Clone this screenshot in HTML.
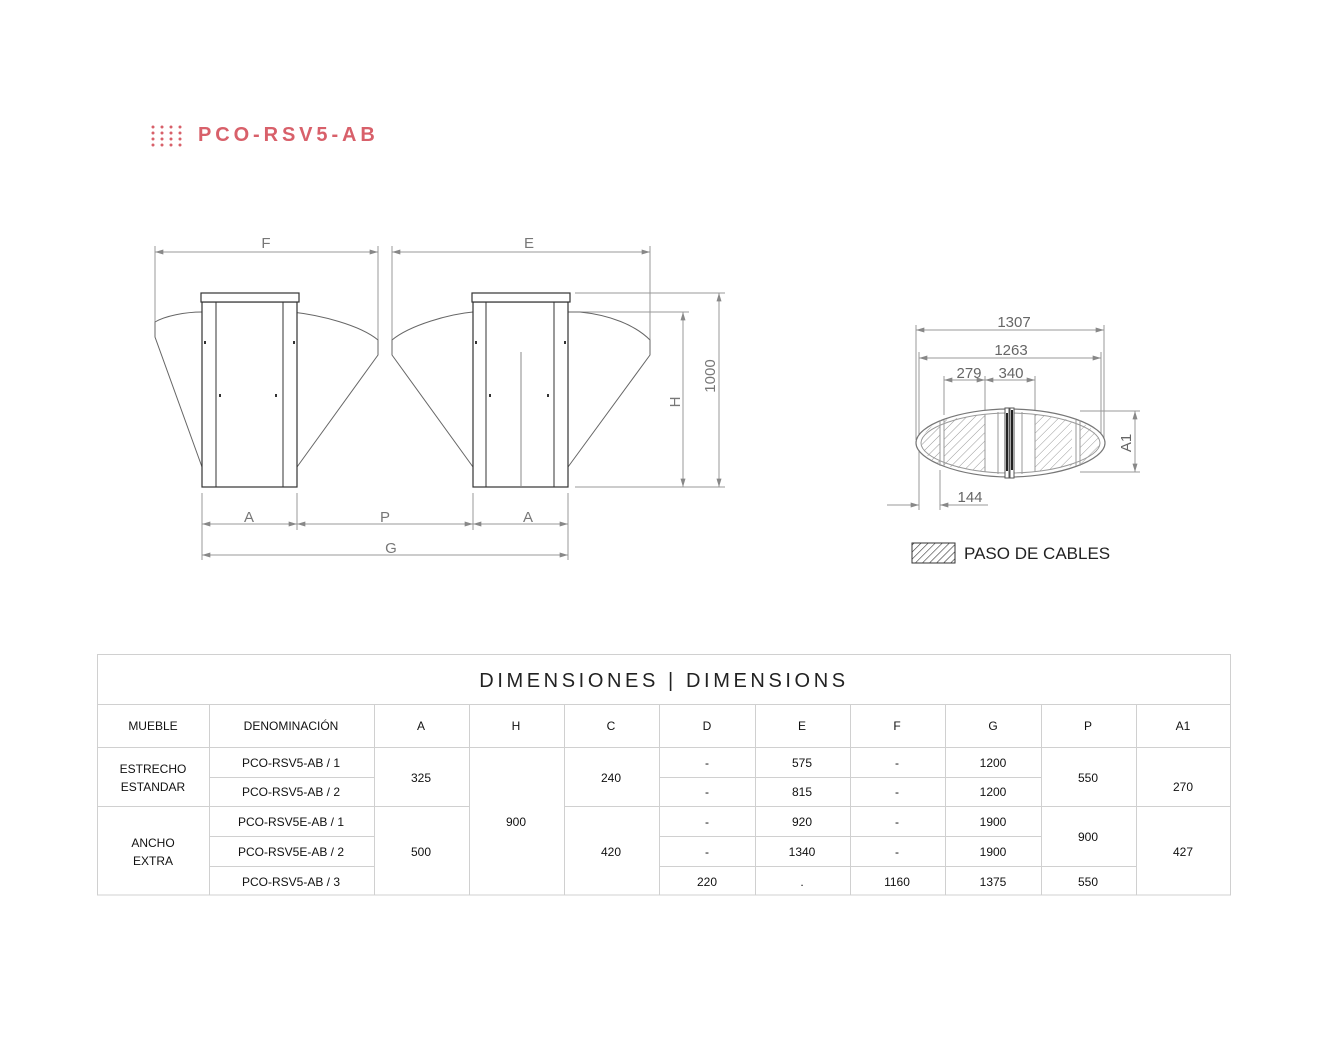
<!DOCTYPE html>
<html><head><meta charset="utf-8"><style>
html,body{margin:0;padding:0;background:#fff;}
svg{display:block;}
text{font-family:"Liberation Sans",sans-serif;}
</style></head><body>
<svg width="1335" height="1058" viewBox="0 0 1335 1058" xmlns="http://www.w3.org/2000/svg">
<defs>
<pattern id="h" width="6" height="6" patternUnits="userSpaceOnUse" patternTransform="rotate(45)">
<line x1="0" y1="0" x2="0" y2="6" stroke="#999" stroke-width="1"/></pattern>
<pattern id="h2" width="5" height="5" patternUnits="userSpaceOnUse" patternTransform="rotate(45)">
<line x1="0" y1="0" x2="0" y2="5" stroke="#333" stroke-width="1.2"/></pattern>
<marker id="ar" viewBox="0 0 10 6" refX="10" refY="3" markerWidth="12" markerHeight="5" orient="auto-start-reverse" markerUnits="userSpaceOnUse"><path d="M0,0L10,3L0,6z" fill="#888"/></marker>
</defs>
<!-- title -->
<g fill="#d8606a">
<g id="dots"><circle cx="153" cy="127" r="1.5"/><circle cx="153" cy="133" r="1.5"/><circle cx="153" cy="139" r="1.5"/><circle cx="153" cy="145" r="1.5"/></g>
<use href="#dots" x="9"/><use href="#dots" x="18"/><use href="#dots" x="27"/>
</g>
<text x="198" y="141" font-size="20" font-weight="bold" fill="#d8606a" letter-spacing="3.9">PCO-RSV5-AB</text>

<!-- front view -->
<g fill="none" stroke="#999" stroke-width="1">
<line x1="155" y1="252" x2="378" y2="252" marker-start="url(#ar)" marker-end="url(#ar)"/>
<line x1="155" y1="246" x2="155" y2="322"/><line x1="378" y1="246" x2="378" y2="340"/>
<line x1="392" y1="252" x2="650" y2="252" marker-start="url(#ar)" marker-end="url(#ar)"/>
<line x1="392" y1="246" x2="392" y2="340"/><line x1="650" y1="246" x2="650" y2="340"/>
<line x1="575" y1="293" x2="725" y2="293"/><line x1="578" y1="312" x2="689" y2="312"/><line x1="575" y1="487" x2="725" y2="487"/>
<line x1="683" y1="312" x2="683" y2="487" marker-start="url(#ar)" marker-end="url(#ar)"/>
<line x1="719" y1="293" x2="719" y2="487" marker-start="url(#ar)" marker-end="url(#ar)"/>
<line x1="202" y1="493" x2="202" y2="560"/><line x1="297" y1="493" x2="297" y2="530"/><line x1="473" y1="493" x2="473" y2="530"/><line x1="568" y1="493" x2="568" y2="560"/>
<line x1="202" y1="524" x2="297" y2="524" marker-start="url(#ar)" marker-end="url(#ar)"/>
<line x1="297" y1="524" x2="473" y2="524" marker-start="url(#ar)" marker-end="url(#ar)"/>
<line x1="473" y1="524" x2="568" y2="524" marker-start="url(#ar)" marker-end="url(#ar)"/>
<line x1="202" y1="555" x2="568" y2="555" marker-start="url(#ar)" marker-end="url(#ar)"/>
</g>
<g fill="#777" font-size="15">
<text x="266" y="248" text-anchor="middle">F</text>
<text x="529" y="248" text-anchor="middle">E</text>
<text x="249" y="522" text-anchor="middle">A</text>
<text x="385" y="522" text-anchor="middle">P</text>
<text x="528" y="522" text-anchor="middle">A</text>
<text x="391" y="553" text-anchor="middle">G</text>
<text transform="translate(680,402) rotate(-90)" text-anchor="middle">H</text>
<text transform="translate(715,376) rotate(-90)" text-anchor="middle">1000</text>
</g>
<g fill="none" stroke="#666" stroke-width="1">
<path d="M202,312 C185,312 165,316 155,322 L155,337 L202,467"/>
<path d="M297,312 L292,312 C320,315 360,325 378,340 L378,355 L297,467"/>
<path d="M473,312 C450,314 410,325 392,340 L392,355 L473,467"/>
<path d="M568,312 L580,312 C610,315 635,325 650,340 L650,355 L568,467"/>
<line x1="521" y1="352" x2="521" y2="487"/>
</g>
<g fill="#fff" stroke="#333" stroke-width="1.2">
<rect x="202" y="302" width="95" height="185"/><rect x="201" y="293" width="98" height="9"/>
<rect x="473" y="302" width="95" height="185"/><rect x="472" y="293" width="98" height="9"/>
</g>
<g stroke="#333" stroke-width="1"><line x1="216" y1="302" x2="216" y2="487"/><line x1="283" y1="302" x2="283" y2="487"/>
<line x1="486" y1="302" x2="486" y2="487"/><line x1="554" y1="302" x2="554" y2="487"/></g>
<line x1="521" y1="352" x2="521" y2="487" stroke="#888"/>
<g fill="#333"><rect x="204" y="341" width="2" height="3"/><rect x="293" y="341" width="2" height="3"/><rect x="219" y="394" width="2" height="3"/><rect x="275" y="394" width="2" height="3"/>
<rect x="475" y="341" width="2" height="3"/><rect x="564" y="341" width="2" height="3"/><rect x="489" y="394" width="2" height="3"/><rect x="547" y="394" width="2" height="3"/></g>

<!-- plan view -->
<g fill="none" stroke="#999" stroke-width="1">
<line x1="916" y1="330" x2="1104" y2="330" marker-start="url(#ar)" marker-end="url(#ar)"/>
<line x1="919" y1="358" x2="1101" y2="358" marker-start="url(#ar)" marker-end="url(#ar)"/>
<line x1="944" y1="380" x2="985" y2="380" marker-start="url(#ar)" marker-end="url(#ar)"/>
<line x1="985" y1="380" x2="1035" y2="380" marker-start="url(#ar)" marker-end="url(#ar)"/>
<line x1="916" y1="325" x2="916" y2="440"/><line x1="1104" y1="325" x2="1104" y2="440"/>
<line x1="919" y1="352" x2="919" y2="510"/><line x1="1101" y1="352" x2="1101" y2="440"/>
<line x1="944" y1="376" x2="944" y2="415"/><line x1="985" y1="376" x2="985" y2="410"/><line x1="1035" y1="376" x2="1035" y2="410"/>
<line x1="1080" y1="411" x2="1140" y2="411"/><line x1="1080" y1="472" x2="1140" y2="472"/>
<line x1="1135" y1="411" x2="1135" y2="472" marker-start="url(#ar)" marker-end="url(#ar)"/>
<line x1="940" y1="470" x2="940" y2="510"/>
<line x1="887" y1="505" x2="919" y2="505" marker-end="url(#ar)"/>
<line x1="940" y1="505" x2="988" y2="505" marker-start="url(#ar)"/>
</g>
<g fill="#666" font-size="15">
<text x="1014" y="327" text-anchor="middle">1307</text>
<text x="1011" y="355" text-anchor="middle">1263</text>
<text x="969" y="378" text-anchor="middle">279</text>
<text x="1011" y="378" text-anchor="middle">340</text>
<text x="970" y="502" text-anchor="middle">144</text>
<text transform="translate(1131,443) rotate(-90)" text-anchor="middle">A1</text>
</g>
<path d="M1009,409 C960,409 916,425 916,443 C916,460 960,477 1009,477 C1060,477 1105,460 1105,443 C1105,425 1060,409 1009,409Z" fill="#fff" stroke="#777" stroke-width="1.2"/>
<path d="M1009,413 C962,413 921,428 921,443 C921,458 962,473 1009,473 C1058,473 1100,458 1100,443 C1100,428 1058,413 1009,413Z" fill="none" stroke="#999"/>
<path d="M944,420 L985,414 L985,472 L944,466Z" fill="url(#h)"/>
<path d="M1035,414 L1072,420 L1072,466 L1035,472Z" fill="url(#h)"/>
<path d="M940,422 C925,428 922,438 922,443 C922,450 928,460 940,464Z" fill="url(#h)"/>
<path d="M1080,422 C1095,428 1099,438 1099,443 C1099,450 1093,460 1080,464Z" fill="url(#h)"/>
<g stroke="#999"><line x1="940" y1="420" x2="940" y2="466"/><line x1="944" y1="420" x2="944" y2="466"/><line x1="985" y1="414" x2="985" y2="472"/><line x1="998" y1="412" x2="998" y2="474"/><line x1="1022" y1="412" x2="1022" y2="474"/><line x1="1035" y1="414" x2="1035" y2="472"/><line x1="1076" y1="420" x2="1076" y2="466"/><line x1="1080" y1="420" x2="1080" y2="466"/></g>
<rect x="1005" y="408" width="4" height="70" fill="#fff" stroke="#555"/>
<rect x="1010" y="408" width="4" height="70" fill="#fff" stroke="#555"/>
<rect x="1006" y="413" width="2" height="58" fill="#222"/><rect x="1011" y="410" width="2" height="60" fill="#222"/>
<rect x="912" y="543" width="43" height="20" fill="url(#h2)" stroke="#333"/>
<text x="964" y="559" font-size="17" fill="#222">PASO DE CABLES</text>

<!-- table -->
<g fill="none" stroke="#d0d0d0" stroke-width="1">
<rect x="97.5" y="654.5" width="1133" height="240.5"/>
<line x1="97" y1="704.5" x2="1231" y2="704.5"/>
<line x1="97" y1="747.5" x2="1231" y2="747.5"/>
<line x1="97" y1="806.5" x2="469" y2="806.5"/><line x1="564" y1="806.5" x2="1231" y2="806.5"/>
<line x1="209" y1="777.5" x2="374" y2="777.5"/><line x1="659" y1="777.5" x2="1041" y2="777.5"/>
<line x1="209" y1="836.5" x2="374" y2="836.5"/><line x1="659" y1="836.5" x2="1041" y2="836.5"/>
<line x1="209" y1="866.5" x2="374" y2="866.5"/><line x1="659" y1="866.5" x2="1136" y2="866.5"/>
<line x1="209.5" y1="704" x2="209.5" y2="895"/><line x1="374.5" y1="704" x2="374.5" y2="895"/>
<line x1="469.5" y1="704" x2="469.5" y2="895"/><line x1="564.5" y1="704" x2="564.5" y2="895"/>
<line x1="659.5" y1="704" x2="659.5" y2="895"/><line x1="755.5" y1="704" x2="755.5" y2="895"/>
<line x1="850.5" y1="704" x2="850.5" y2="895"/><line x1="945.5" y1="704" x2="945.5" y2="895"/>
<line x1="1041.5" y1="704" x2="1041.5" y2="895"/><line x1="1136.5" y1="704" x2="1136.5" y2="895"/>
</g>
<text x="664" y="687" font-size="20" fill="#222" text-anchor="middle" letter-spacing="3.6">DIMENSIONES | DIMENSIONS</text>
<g font-size="12" fill="#111" text-anchor="middle">
<text x="153" y="730">MUEBLE</text><text x="291" y="730">DENOMINACIÓN</text>
<text x="421" y="730">A</text><text x="516" y="730">H</text><text x="611" y="730">C</text><text x="707" y="730">D</text>
<text x="802" y="730">E</text><text x="897" y="730">F</text><text x="993" y="730">G</text><text x="1088" y="730">P</text><text x="1183" y="730">A1</text>
<text x="153" y="773">ESTRECHO</text><text x="153" y="791">ESTANDAR</text>
<text x="153" y="847">ANCHO</text><text x="153" y="865">EXTRA</text>
<text x="291" y="767">PCO-RSV5-AB / 1</text><text x="291" y="796">PCO-RSV5-AB / 2</text>
<text x="291" y="826">PCO-RSV5E-AB / 1</text><text x="291" y="856">PCO-RSV5E-AB / 2</text><text x="291" y="886">PCO-RSV5-AB / 3</text>
<text x="421" y="782">325</text><text x="421" y="856">500</text>
<text x="516" y="826">900</text>
<text x="611" y="782">240</text><text x="611" y="856">420</text>
<text x="707" y="767">-</text><text x="707" y="796">-</text><text x="707" y="826">-</text><text x="707" y="856">-</text><text x="707" y="886">220</text>
<text x="802" y="767">575</text><text x="802" y="796">815</text><text x="802" y="826">920</text><text x="802" y="856">1340</text><text x="802" y="886">.</text>
<text x="897" y="767">-</text><text x="897" y="796">-</text><text x="897" y="826">-</text><text x="897" y="856">-</text><text x="897" y="886">1160</text>
<text x="993" y="767">1200</text><text x="993" y="796">1200</text><text x="993" y="826">1900</text><text x="993" y="856">1900</text><text x="993" y="886">1375</text>
<text x="1088" y="782">550</text><text x="1088" y="841">900</text><text x="1088" y="886">550</text>
<text x="1183" y="791">270</text><text x="1183" y="856">427</text>
</g>
</svg>
</body></html>
